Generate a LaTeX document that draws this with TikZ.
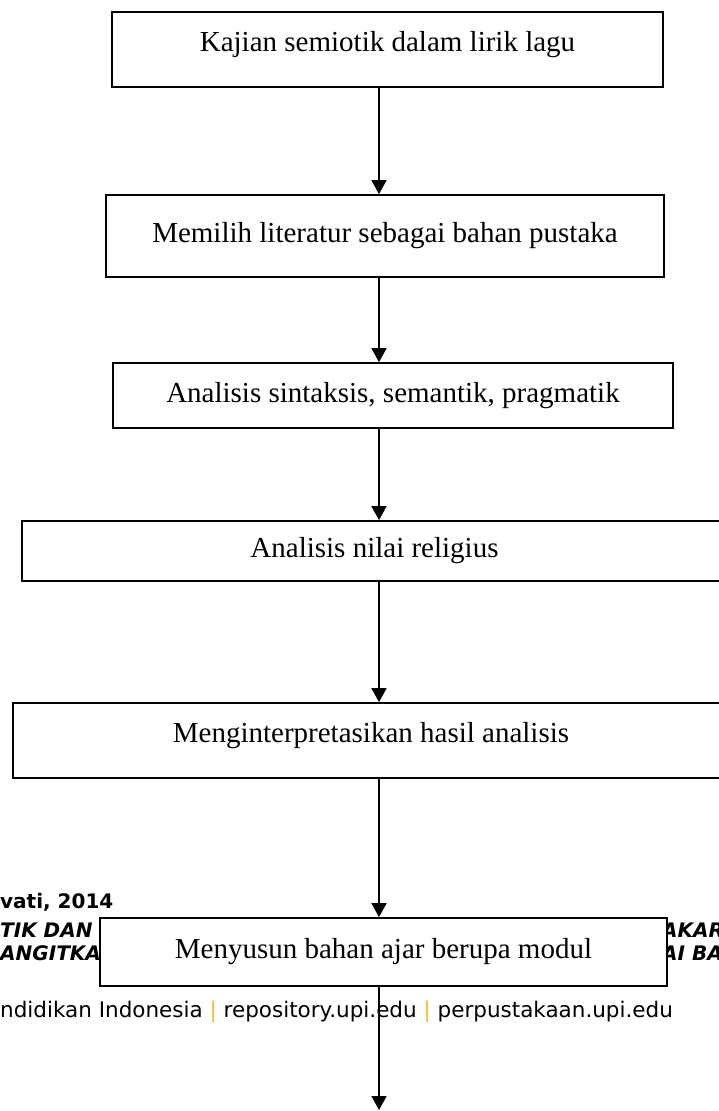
\documentclass[tikz,border=0pt]{standalone}
\usepackage{fontspec}
\usepackage{xcolor}
\usetikzlibrary{arrows.meta}
\newfontfamily\boxfont{Liberation Serif}
\newfontfamily\footfont{DejaVu Sans}
\definecolor{barcolor}{RGB}{245, 190, 40}

\begin{document}
\begin{tikzpicture}[
    x=1pt, y=-1pt,
    box/.style={rectangle, draw, line width=1.8pt, fill=white, inner sep=0pt, align=center, font=\boxfont\fontsize{29}{34}\selectfont},
    flow/.style={-{Triangle[length=14pt, width=15pt]}, line width=1.8pt},
    foot/.style={anchor=west, inner sep=0pt, font=\footfont\bfseries\fontsize{20}{24}\selectfont},
    title/.style={foot, font=\footfont\bfseries\itshape\fontsize{20}{24}\selectfont},
]
    \useasboundingbox (0, 0) rectangle (719, 1111);

    % Page footer lying behind the chart
    \node[foot] (author) at (0, 902) {vati, 2014};
    \node[title] (titleA) at (0, 930) {TIK DAN M};
    \node[title] (titleB) at (0, 953) {ANGITKAR};
    \node[title] (titleC) at (662, 930) {AKAR};
    \node[title] (titleD) at (662, 953) {AI BA};
    \node[foot, font=\footfont\fontsize{21.5}{25}\selectfont] (repo) at (0, 1012)
        {ndidikan Indonesia {\color{barcolor}|} repository.upi.edu {\color{barcolor}|} perpustakaan.upi.edu};

    % Steps
    \node[box, minimum width=551pt, minimum height=75pt, text depth=16pt] (kajian) at (387.5, 49.5) {Kajian semiotik dalam lirik lagu};
    \node[box, minimum width=558pt, minimum height=82pt] (literatur) at (385, 236) {Memilih literatur sebagai bahan pustaka};
    \node[box, minimum width=560pt, minimum height=65pt] (sintaksis) at (393, 395.5) {Analisis sintaksis, semantik, pragmatik};
    \node[box, minimum width=705pt, minimum height=60pt] (religius) at (374.5, 551) {Analisis nilai religius};
    \node[box, minimum width=716pt, minimum height=75pt, text depth=16pt] (interpretasi) at (371, 740.5) {Menginterpretasikan hasil analisis};
    \node[box, minimum width=567pt, minimum height=68pt] (modul) at (383.5, 952) {Menyusun bahan ajar berupa modul};

    % Arrows
    \coordinate (axis) at (379, 0);
    \coordinate (out) at (379, 1110);
    \draw[flow] (kajian.south -| axis) -- (literatur.north -| axis);
    \draw[flow] (literatur.south -| axis) -- (sintaksis.north -| axis);
    \draw[flow] (sintaksis.south -| axis) -- (religius.north -| axis);
    \draw[flow] (religius.south -| axis) -- (interpretasi.north -| axis);
    \draw[flow] (interpretasi.south -| axis) -- (modul.north -| axis);
    \draw[flow] (modul.south -| axis) -- (out);
\end{tikzpicture}
\end{document}
